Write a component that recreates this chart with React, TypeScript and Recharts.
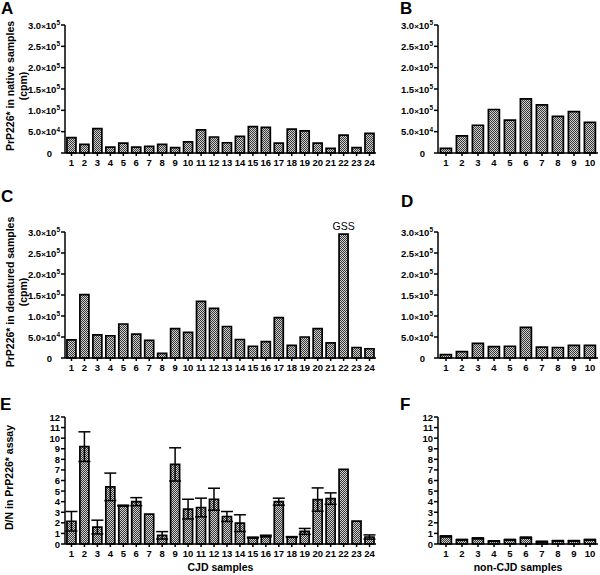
import React from 'react';
import { BarChart, Bar, XAxis, YAxis, ErrorBar, LabelList } from 'recharts';

const FONT = '"Liberation Sans", Arial, Helvetica, sans-serif';

// sample numbers on the x axes
const cjdSamples = ['1', '2', '3', '4', '5', '6', '7', '8', '9', '10', '11', '12', '13', '14', '15', '16', '17', '18', '19', '20', '21', '22', '23', '24'];
const nonCjdSamples = ['1', '2', '3', '4', '5', '6', '7', '8', '9', '10'];

// A / B: native samples (cpm)
const cjdNative = [36000, 20000, 57000, 14000, 23000, 14000, 15600, 20000, 12500, 26000, 54000, 37500, 24000, 39000, 62000, 60000, 23000, 56000, 52000, 23000, 11000, 42000, 12500, 46000];
const nonCjdNative = [11000, 40000, 65000, 102000, 77000, 127000, 113000, 86000, 97000, 72000];

// C / D: denatured samples (cpm)
const cjdDenatured = [43000, 151000, 55000, 53000, 81000, 57000, 42000, 11000, 70000, 61000, 135000, 118000, 75000, 44000, 28000, 39000, 96000, 30000, 50000, 70000, 36000, 295000, 25000, 22000];
const cjdDenaturedNotes = ['', '', '', '', '', '', '', '', '', '', '', '', '', '', '', '', '', '', '', '', '', 'GSS', '', ''];
const nonCjdDenatured = [8000, 15000, 35000, 27000, 28000, 73000, 26000, 25000, 30000, 30000];

// E / F: D/N ratio with error
const cjdRatio = [2.15, 9.2, 1.6, 5.4, 3.62, 4.0, 2.82, 0.82, 7.52, 3.3, 3.45, 4.23, 2.6, 1.97, 0.6, 0.75, 4.0, 0.66, 1.19, 4.2, 4.29, 7.05, 2.16, 0.66];
const cjdRatioErr = [0.92, 1.4, 0.65, 1.3, 0.04, 0.38, 0, 0.35, 1.57, 0.93, 0.88, 1.04, 0.47, 0.79, 0.04, 0.08, 0.33, 0.04, 0.28, 1.1, 0.54, 0, 0, 0.2];
const nonCjdRatio = [0.72, 0.4, 0.53, 0.28, 0.4, 0.6, 0.22, 0.3, 0.3, 0.4];
const nonCjdRatioErr = [0.05, 0.04, 0.05, 0.03, 0.04, 0.05, 0.03, 0.03, 0.03, 0.04];

// y ticks
const cpmTicks = [0, 50000, 100000, 150000, 200000, 250000, 300000];
const cpmTickMantissa = ['0', '5.0', '1.0', '1.5', '2.0', '2.5', '3.0'];
const cpmTickExponent = ['', '4', '5', '5', '5', '5', '5'];
const ratioTicks = [0, 1, 2, 3, 4, 5, 6, 7, 8, 9, 10, 11, 12];

const axisStyle = { stroke: '#000', strokeWidth: 1.5 };

const CpmTick = (props: any) => {
  const { x, y, payload } = props;
  const i = cpmTicks.indexOf(payload.value);
  const exp = cpmTickExponent[i];
  if (!exp) {
    return (
      <text x={x - 8} y={y} dy={3.5} textAnchor="end" fontSize={9.5} fontWeight="bold" fontFamily={FONT} fill="#000">
        {cpmTickMantissa[i]}
      </text>
    );
  }
  return (
    <text x={x} y={y} dy={3.5} textAnchor="end" fontSize={9.5} fontWeight="bold" fontFamily={FONT} fill="#000">
      {cpmTickMantissa[i]}
      <tspan fontSize={8}>×</tspan>
      10
      <tspan dy={-3.5} fontSize={6.5}>{exp}</tspan>
    </text>
  );
};

const RatioTick = (props: any) => {
  const { x, y, payload } = props;
  return (
    <text x={x} y={y} dy={3.5} textAnchor="end" fontSize={9.5} fontWeight="bold" fontFamily={FONT} fill="#000">
      {payload.value}
    </text>
  );
};

type PanelProps = {
  id: string;
  left: number;
  top: number;
  width: number;
  height: number;
  categories: string[];
  values: number[];
  errors?: number[];
  notes?: string[];
  yAxisWidth: number;
  marginTop: number;
  marginRight: number;
  xAxisHeight: number;
  domain: [number, number];
  ticks: number[];
  tick: any;
  yTitle?: string[];
  yTitleX?: number[];
  xTitle?: string;
};

const Panel = (p: PanelProps) => {
  const rows = p.categories.map((name, i) => ({
    name,
    value: p.values[i],
    err: p.errors ? p.errors[i] : 0,
    note: p.notes ? p.notes[i] : '',
  }));

  const yLabel = p.yTitle
    ? (lp: any) => {
        const vb = lp.viewBox;
        const cy = vb.y + vb.height / 2 - 3;
        return (
          <g>
            {p.yTitle!.map((line, i) => (
              <text
                key={i}
                transform={`translate(${p.yTitleX![i]},${cy}) rotate(-90)`}
                textAnchor="middle"
                dominantBaseline="central"
                fontSize={10.5}
                fontWeight="bold"
                fontFamily={FONT}
                fill="#000"
              >
                {line}
              </text>
            ))}
          </g>
        );
      }
    : undefined;

  const xLabel = p.xTitle
    ? (lp: any) => {
        const vb = lp.viewBox;
        return (
          <text x={vb.x + vb.width / 2} y={vb.y + 27} textAnchor="middle" fontSize={10.5} fontWeight="bold" fontFamily={FONT} fill="#000">
            {p.xTitle}
          </text>
        );
      }
    : undefined;

  return (
    <div style={{ position: 'absolute', left: p.left, top: p.top }}>
      <BarChart
        width={p.width}
        height={p.height}
        data={rows}
        margin={{ top: p.marginTop, right: p.marginRight, bottom: 0, left: 0 }}
        barCategoryGap="15%"
      >
        <defs>
          <pattern id={p.id} width={2} height={2} patternUnits="userSpaceOnUse">
            <rect width={2} height={2} fill="#d0d0d0" />
            <rect width={1} height={1} fill="#383838" />
            <rect x={1} y={1} width={1} height={1} fill="#383838" />
          </pattern>
        </defs>
        <XAxis
          dataKey="name"
          interval={0}
          height={p.xAxisHeight}
          tickSize={3}
          tickMargin={3}
          axisLine={axisStyle}
          tickLine={axisStyle}
          tick={{ fill: '#000', fontSize: 9.5, fontWeight: 'bold', fontFamily: FONT }}
          label={xLabel}
        />
        <YAxis
          width={p.yAxisWidth}
          domain={p.domain}
          ticks={p.ticks}
          interval={0}
          tickSize={4}
          tickMargin={1}
          axisLine={axisStyle}
          tickLine={axisStyle}
          tick={p.tick}
          label={yLabel}
        />
        <Bar dataKey="value" fill={`url(#${p.id})`} stroke="#000" strokeWidth={1.7} isAnimationActive={false}>
          {p.errors && <ErrorBar dataKey="err" width={6} stroke="#000" strokeWidth={1.5} direction="y" />}
          {p.notes && (
            <LabelList dataKey="note" position="top" offset={4} fill="#000" fontSize={10.5} fontFamily={FONT} />
          )}
        </Bar>
      </BarChart>
    </div>
  );
};

const Letter = ({ text, x, y }: { text: string; x: number; y: number }) => (
  <div
    style={{
      position: 'absolute',
      left: x,
      top: y,
      fontFamily: FONT,
      fontWeight: 'bold',
      fontSize: 17,
      lineHeight: '17px',
      color: '#000',
    }}
  >
    {text}
  </div>
);

export default function App() {
  const left = { left: 0, width: 380, yAxisWidth: 65, marginRight: 4 };
  const right = { left: 380, width: 220, yAxisWidth: 58, marginRight: 2 };
  return (
    <div style={{ position: 'absolute', left: 0, top: 0, width: 600, height: 575, background: '#fff', overflow: 'hidden' }}>
      <Panel
        id="patA" {...left} top={0} height={175} marginTop={25} xAxisHeight={22}
        categories={cjdSamples} values={cjdNative}
        domain={[0, 300000]} ticks={cpmTicks} tick={<CpmTick />}
        yTitle={['PrP226* in native samples', '(cpm)']} yTitleX={[10, 23]}
      />
      <Panel
        id="patB" {...right} top={0} height={175} marginTop={25} xAxisHeight={22}
        categories={nonCjdSamples} values={nonCjdNative}
        domain={[0, 300000]} ticks={cpmTicks} tick={<CpmTick />}
      />
      <Panel
        id="patC" {...left} top={180} height={200} marginTop={52} xAxisHeight={22}
        categories={cjdSamples} values={cjdDenatured} notes={cjdDenaturedNotes}
        domain={[0, 300000]} ticks={cpmTicks} tick={<CpmTick />}
        yTitle={['PrP226* in denatured samples', '(cpm)']} yTitleX={[10, 23]}
      />
      <Panel
        id="patD" {...right} top={180} height={200} marginTop={52} xAxisHeight={22}
        categories={nonCjdSamples} values={nonCjdDenatured}
        domain={[0, 300000]} ticks={cpmTicks} tick={<CpmTick />}
      />
      <Panel
        id="patE" {...left} top={375} height={200} marginTop={42} xAxisHeight={31}
        categories={cjdSamples} values={cjdRatio} errors={cjdRatioErr}
        domain={[0, 12]} ticks={ratioTicks} tick={<RatioTick />}
        yTitle={['D/N in PrP226* assay']} yTitleX={[9]} xTitle="CJD samples"
      />
      <Panel
        id="patF" {...right} top={375} height={200} marginTop={42} xAxisHeight={31}
        categories={nonCjdSamples} values={nonCjdRatio} errors={nonCjdRatioErr}
        domain={[0, 12]} ticks={ratioTicks} tick={<RatioTick />}
        xTitle="non-CJD samples"
      />
      <Letter text="A" x={1} y={0} />
      <Letter text="B" x={400} y={0} />
      <Letter text="C" x={1} y={188} />
      <Letter text="D" x={401} y={193} />
      <Letter text="E" x={0} y={396} />
      <Letter text="F" x={400} y={396} />
    </div>
  );
}
